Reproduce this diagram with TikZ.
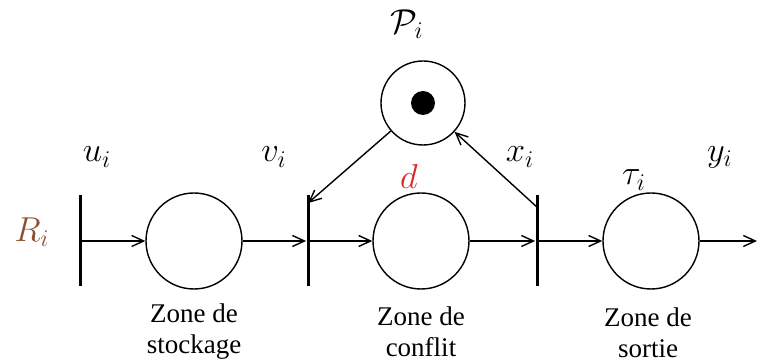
\documentclass[tikz,border=0pt]{standalone}
\usepackage{amsmath}
\usepackage{fontspec}
\newfontfamily\zonefont{Liberation Serif}
\usepackage{tikz}
\usetikzlibrary{arrows.meta}

\definecolor{rbrown}{RGB}{140,80,45}
\definecolor{dred}{RGB}{220,40,40}

\tikzset{
    place/.style={circle, draw, line width=0.7pt, minimum size=96pt*0.5, inner sep=0pt},
    trans/.style={rectangle, fill=black, inner sep=0pt, minimum width=1.5pt, minimum height=45.5pt},
    arc/.style={line width=0.7pt, -{Straight Barb[length=6pt, width=5.5pt]}},
    lbl/.style={font=\fontsize{17}{20}\selectfont},
    zone/.style={font=\zonefont\fontsize{13.5}{15.5}\selectfont, align=center, inner sep=0pt}
}

\begin{document}
\begin{tikzpicture}[x=0.5pt, y=-0.5pt]

    \useasboundingbox (0,0) rectangle (757,363);

    % Transitions (bars)
    \node[trans] (u) at (80,241) {};
    \node[trans] (v) at (308,241) {};
    \node[trans] (x) at (537,241) {};

    % Places
    \node[place] (stor) at (194,241) {};
    \node[place] (conf) at (421,241) {};
    \node[place] (out) at (651,241) {};
    \node[place, minimum size=42pt] (P) at (423,103) {};
    \fill (P.center) circle (6pt);
    \coordinate (end) at (757,241);

    % Arcs along the line
    \draw[arc] (u) -- (stor);
    \draw[arc] (stor) -- (v);
    \draw[arc] (v) -- (conf);
    \draw[arc] (conf) -- (x);
    \draw[arc] (x) -- (out);
    \draw[arc] (out) -- (end);

    % Arcs of the shared place
    \draw[arc] (P) -- ([yshift=-4pt]v.north);
    \draw[arc] ([yshift=-6pt]x.north) -- (P);

    % Labels
    \node[lbl] (Rlbl) at (32,232) {$\color{rbrown}R_i$};
    \node[lbl] (ulbl) at (97,157) {$u_i$};
    \node[lbl] (vlbl) at (274,157) {$v_i$};
    \node[lbl] (xlbl) at (520,157) {$x_i$};
    \node[lbl] (ylbl) at (720,157) {$y_i$};
    \node[lbl] (dlbl) at (409,177) {$\color{dred}d$};
    \node[lbl] (tlbl) at (634,180) {$\tau_i$};
    \node[lbl] (Plbl) at (407,24) {$\mathcal{P}_i$};

    % Zone names
    \node[zone] (zs) at (194,332) {Zone de\\stockage};
    \node[zone] (zc) at (421,332) {Zone de\\conflit};
    \node[zone] (zo) at (648,333) {Zone de\\sortie};
\end{tikzpicture}
\end{document}
